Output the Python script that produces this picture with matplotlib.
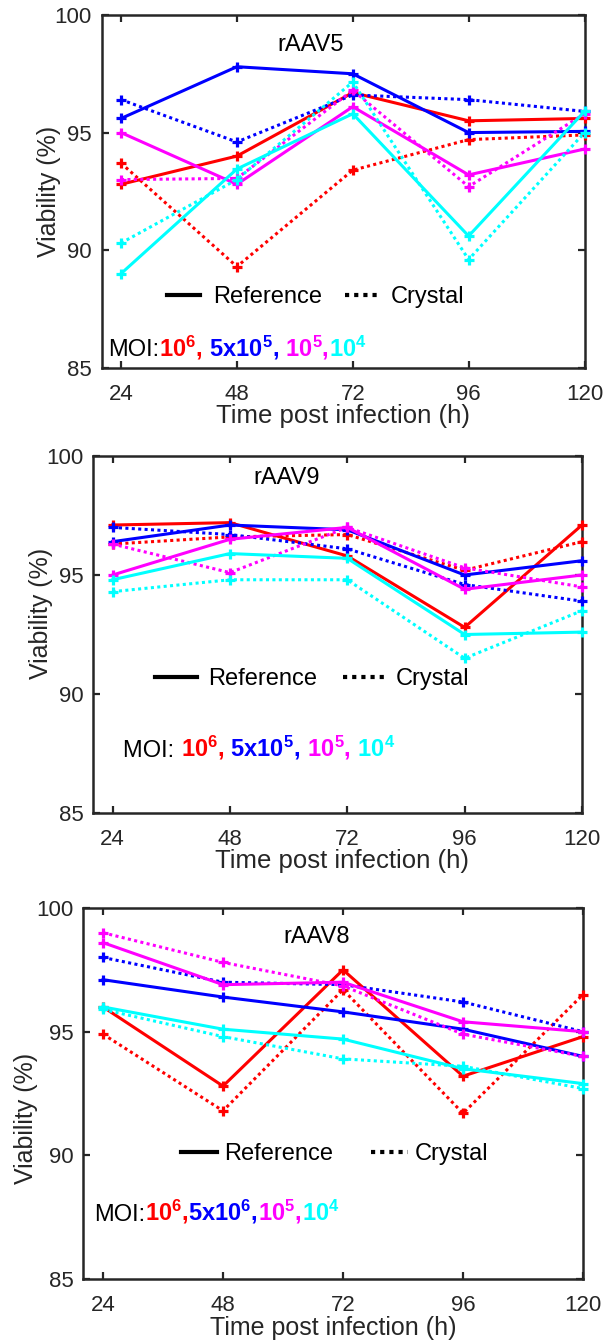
import matplotlib
matplotlib.use("Agg")
import matplotlib.pyplot as plt
from matplotlib.lines import Line2D
from matplotlib.offsetbox import TextArea, HPacker, AnchoredOffsetbox

plt.rcParams['font.family'] = ['Liberation Sans', 'DejaVu Sans']
plt.rcParams['mathtext.fontset'] = 'custom'
plt.rcParams['mathtext.rm'] = 'Liberation Sans'
plt.rcParams['mathtext.bf'] = 'Liberation Sans:bold'
plt.rcParams['mathtext.it'] = 'Liberation Sans:italic'

# ---------------- data ----------------
time_h = [24, 48, 72, 96, 120]
xtick_labels = ['24', '48', '72', '96', '120']
yticks = [85, 90, 95, 100]
series_colors = ['#ff0000', '#0000ff', '#ff00ff', '#00ffff']   # MOI order

# rAAV5 (rows: MOI 1e6, 5e5, 1e5, 1e4)
aav5_reference = [
    [92.8, 94.0, 96.7, 95.5, 95.6],
    [95.6, 97.8, 97.5, 95.0, 95.05],
    [95.0, 92.8, 96.1, 93.2, 94.3],
    [89.0, 93.45, 95.8, 90.6, 95.9],
]
aav5_crystal = [
    [93.7, 89.3, 93.4, 94.7, 94.9],
    [96.4, 94.6, 96.6, 96.4, 95.9],
    [93.0, 93.05, 96.8, 92.7, 95.8],
    [90.3, 93.0, 97.15, 89.6, 95.0],
]

# rAAV9
aav9_reference = [
    [97.1, 97.2, 95.8, 92.8, 97.1],
    [96.4, 97.1, 96.9, 95.0, 95.6],
    [95.0, 96.5, 97.0, 94.4, 95.0],
    [94.8, 95.9, 95.7, 92.5, 92.6],
]
aav9_crystal = [
    [96.3, 96.6, 96.7, 95.2, 96.4],
    [97.0, 96.7, 96.1, 94.6, 93.9],
    [96.3, 95.1, 97.0, 95.3, 94.5],
    [94.3, 94.8, 94.8, 91.5, 93.5],
]

# rAAV8
aav8_reference = [
    [96.0, 92.8, 97.5, 93.2, 94.8],
    [97.1, 96.4, 95.8, 95.1, 94.0],
    [98.6, 96.9, 97.0, 95.4, 95.0],
    [96.0, 95.1, 94.7, 93.5, 92.9],
]
aav8_crystal = [
    [94.9, 91.8, 96.7, 91.7, 96.5],
    [98.0, 97.0, 96.9, 96.2, 95.0],
    [99.0, 97.8, 96.85, 94.9, 94.0],
    [95.9, 94.8, 93.9, 93.6, 92.7],
]

titles = ['rAAV5', 'rAAV9', 'rAAV8']
legend_labels = ['Reference', 'Crystal']
xlabel_text = 'Time post infection (h)'
ylabel_text = 'Viability (%)'

moi_pieces = [
    [("MOI:", 'k'), (r"$\mathbf{10^{6},}$", series_colors[0]),
     (r" $\mathbf{5x10^{5},}$", series_colors[1]),
     (r" $\mathbf{10^{5},}$", series_colors[2]),
     (r"$\mathbf{10^{4}}$", series_colors[3])],
    [("MOI: ", 'k'), (r"$\mathbf{10^{6},}$", series_colors[0]),
     (r" $\mathbf{5x10^{5},}$", series_colors[1]),
     (r" $\mathbf{10^{5},}$", series_colors[2]),
     (r" $\mathbf{10^{4}}$", series_colors[3])],
    [("MOI:", 'k'), (r"$\mathbf{10^{6},}$", series_colors[0]),
     (r"$\mathbf{5x10^{6},}$", series_colors[1]),
     (r"$\mathbf{10^{5},}$", series_colors[2]),
     (r"$\mathbf{10^{4}}$", series_colors[3])],
]

# ---------------- layout ----------------
W, H = 605, 1342
fig = plt.figure(figsize=(W / 100, H / 100), dpi=100)

axes_px = [  # left, right, top, bottom in pixels
    (101.7, 584.5, 15, 367.7),
    (93, 582, 456, 813),
    (83, 583, 908, 1279),
]
title_pos = [(0.433, 0.915), (0.395, 0.938), (0.467, 0.922)]
moi_pos = [(0.0137, 0.056), (0.062, 0.182), (0.022, 0.18)]
legend_pos = [(0.444, 0.2), (0.448, 0.375), (0.503, 0.337)]
legend_style = [
    dict(handlelength=1.4, handletextpad=0.55, columnspacing=0.97),
    dict(handlelength=1.8, handletextpad=0.45, columnspacing=1.1),
    dict(handlelength=1.55, handletextpad=0.3, columnspacing=1.6),
]
ylabel_pos = [(-0.084, 0.499), (-0.081, 0.56), (-0.089, 0.434)]
xlabel_pos = [(0.5, -0.103), (0.509, -0.101), (0.5, -0.1)]
xlabel_size = [18.5, 18.5, 18]

panels = [
    (aav5_reference, aav5_crystal),
    (aav9_reference, aav9_crystal),
    (aav8_reference, aav8_crystal),
]

dark = (0.15, 0.15, 0.15)
dotted = (0, (1, 1.1))

for i, (ref, cry) in enumerate(panels):
    l, r, t, b = axes_px[i]
    ax = fig.add_axes([l / W, 1 - b / H, (r - l) / W, (b - t) / H])
    for k in range(4):
        ax.plot(time_h, ref[k], color=series_colors[k], lw=2.2, ls='-',
                marker='+', ms=6.5, mew=2.3, clip_on=False, zorder=3)
        ax.plot(time_h, cry[k], color=series_colors[k], lw=2.2, ls=dotted,
                marker='+', ms=6.5, mew=2.3, clip_on=False, zorder=3)
    ax.set_xlim(20, 120)
    ax.set_ylim(85, 100)
    ax.set_xticks(time_h)
    ax.set_xticklabels(xtick_labels)
    ax.set_yticks(yticks)
    ax.tick_params(axis='both', direction='in', top=True, right=True,
                   length=5, width=1.6, colors=dark, labelsize=16,
                   labelcolor=dark)
    ax.tick_params(axis='x', pad=11.5)
    ax.tick_params(axis='y', pad=7)
    for s in ax.spines.values():
        s.set_linewidth(1.8)
        s.set_color(dark)
    ax.set_xlabel(xlabel_text, fontsize=xlabel_size[i], color=dark)
    ax.set_ylabel(ylabel_text, fontsize=18, color=dark)
    ax.xaxis.set_label_coords(*xlabel_pos[i])
    ax.yaxis.set_label_coords(*ylabel_pos[i])
    ax.text(title_pos[i][0], title_pos[i][1], titles[i], transform=ax.transAxes,
            ha='center', va='center', fontsize=17, color='k')

    handles = [Line2D([], [], color='k', lw=3, ls='-'),
               Line2D([], [], color='k', lw=3, ls=(0, (1, 1.2)))]
    ax.legend(handles, legend_labels, loc='center',
              bbox_to_anchor=legend_pos[i], bbox_transform=ax.transAxes,
              ncol=2, frameon=False, fontsize=17, borderpad=0,
              borderaxespad=0, **legend_style[i])

    areas = [TextArea(s, textprops=dict(color=c, fontsize=17))
             for s, c in moi_pieces[i]]
    box = HPacker(children=areas, align='baseline', pad=0, sep=0)
    anch = AnchoredOffsetbox(loc='center left', child=box, pad=0, borderpad=0,
                             frameon=False, bbox_to_anchor=moi_pos[i],
                             bbox_transform=ax.transAxes)
    ax.add_artist(anch)

fig.savefig('out.png', dpi=100)
